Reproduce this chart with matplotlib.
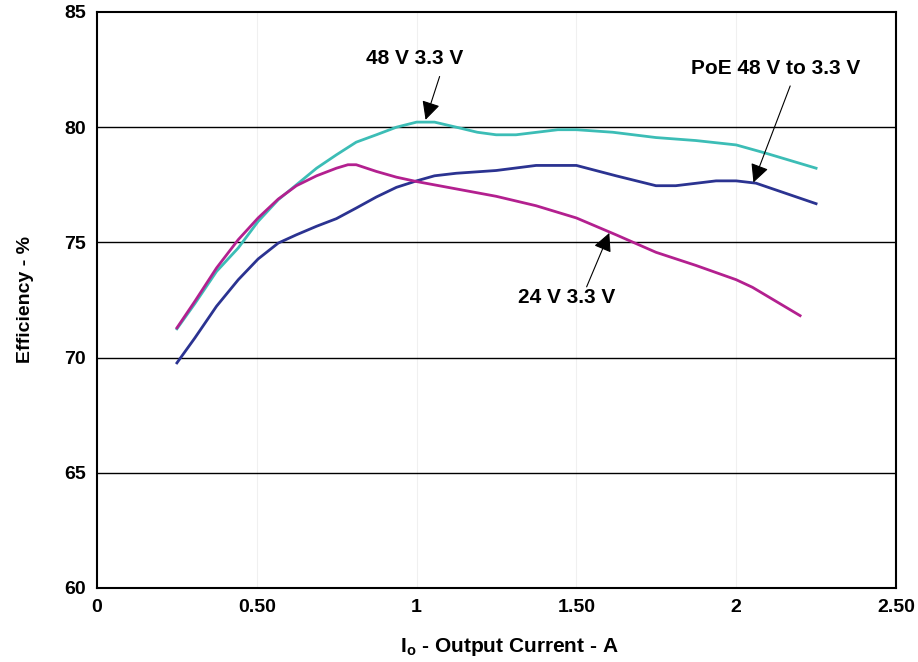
import matplotlib
matplotlib.use("Agg")
import matplotlib.pyplot as plt

# values
x_48v = [0.25, 0.306, 0.374, 0.442, 0.504, 0.567, 0.624, 0.687, 0.749, 0.811, 0.874,
         0.937, 1.0, 1.056, 1.124, 1.19, 1.249, 1.311, 1.442, 1.5, 1.614, 1.749, 1.874,
         2.0, 2.093, 2.25]
eff_48v = [71.25, 72.34, 73.74, 74.76, 75.91, 76.85, 77.5, 78.22, 78.8, 79.35, 79.67,
           80.0, 80.22, 80.22, 80.0, 79.78, 79.67, 79.67, 79.89, 79.89, 79.78, 79.55, 79.42,
           79.23, 78.87, 78.22]

x_poe = [0.25, 0.306, 0.374, 0.442, 0.504, 0.567, 0.624, 0.687, 0.749, 0.811, 0.874,
         0.937, 1.0, 1.056, 1.124, 1.249, 1.374, 1.5, 1.624, 1.749, 1.811, 1.937, 2.0,
         2.062, 2.25]
eff_poe = [69.77, 70.85, 72.23, 73.38, 74.28, 74.97, 75.33, 75.7, 76.03, 76.49, 76.97,
           77.39, 77.67, 77.89, 78.0, 78.12, 78.34, 78.34, 77.89, 77.46, 77.46, 77.67, 77.67,
           77.57, 76.68]

x_24v = [0.25, 0.306, 0.374, 0.442, 0.504, 0.567, 0.624, 0.687, 0.749, 0.785, 0.811,
         0.874, 0.937, 1.0, 1.249, 1.374, 1.5, 1.624, 1.749, 1.874, 2.0, 2.051, 2.2]
eff_24v = [71.29, 72.44, 73.89, 75.12, 76.06, 76.88, 77.46, 77.89, 78.22, 78.37, 78.37,
           78.08, 77.83, 77.64, 77.0, 76.59, 76.06, 75.33, 74.57, 74.0, 73.38, 73.05, 71.82]

x_ticks = [0, 0.5, 1, 1.5, 2, 2.5]
x_tick_labels = ["0", "0.50", "1", "1.50", "2", "2.50"]
y_ticks = [60, 65, 70, 75, 80, 85]

plt.rcParams["font.family"] = ["Liberation Sans", "DejaVu Sans"]
plt.rcParams["font.weight"] = "bold"

fig = plt.figure(figsize=(9.18, 6.62), dpi=100)
ax = fig.add_axes([0.1057, 0.1118, 0.8703, 0.8701])

for v in [0.5, 1, 1.5, 2]:
    ax.axvline(v, color="#f0f0f0", lw=0.8, zorder=0)
for v in [65, 70, 75, 80]:
    ax.axhline(v, color="black", lw=1.0, zorder=1)

ax.plot(x_48v, eff_48v, color="#3cbdb6", lw=2.0, zorder=3)
ax.plot(x_poe, eff_poe, color="#2b3391", lw=2.0, zorder=3)
ax.plot(x_24v, eff_24v, color="#b3208f", lw=2.0, zorder=3)

ax.set_xlim(0, 2.5)
ax.set_ylim(60, 85)
ax.set_xticks(x_ticks)
ax.set_xticklabels(x_tick_labels)
ax.set_yticks(y_ticks)
ax.tick_params(length=0, labelsize=14, pad=8)
for s in ax.spines.values():
    s.set_linewidth(1.5)
    s.set_color("black")

ax.set_xlabel(r"I$_\mathregular{o}$ - Output Current - A", fontsize=15, fontweight="bold")
ax.xaxis.set_label_coords(0.516, -0.083)
ax.set_ylabel("Efficiency - %", fontsize=14, fontweight="bold", labelpad=22)

arrow = dict(arrowstyle="-|>", color="black", lw=0.8, mutation_scale=28, shrinkA=0, shrinkB=0)
ax.annotate("", xy=(1.028, 80.32), xytext=(1.072, 82.2), arrowprops=arrow, zorder=4)
ax.text(0.994, 83.0, "48 V 3.3 V", ha="center", va="center", fontsize=15, fontweight="bold")

ax.annotate("", xy=(2.054, 77.6), xytext=(2.169, 81.79), arrowprops=arrow, zorder=4)
ax.text(2.124, 82.56, "PoE 48 V to 3.3 V", ha="center", va="center", fontsize=15, fontweight="bold")

ax.annotate("", xy=(1.603, 75.41), xytext=(1.532, 73.07), arrowprops=arrow, zorder=4)
ax.text(1.468, 72.59, "24 V 3.3 V", ha="center", va="center", fontsize=15, fontweight="bold")

fig.savefig("out.png", dpi=100)
